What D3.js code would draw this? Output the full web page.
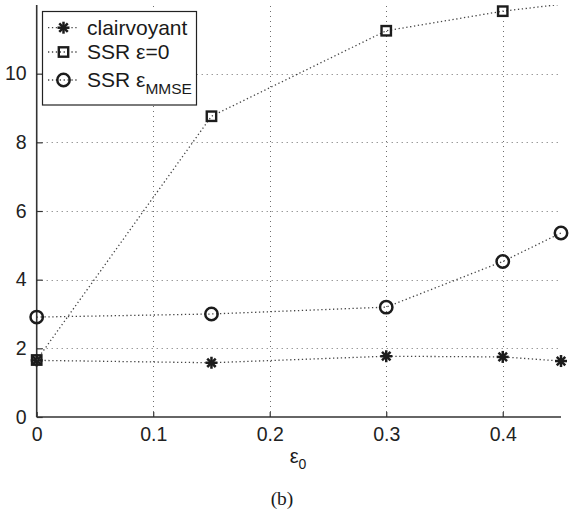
<!DOCTYPE html>
<html><head><meta charset="utf-8">
<script src="https://cdn.jsdelivr.net/npm/d3@7"></script>
<style>body{margin:0;background:#fff}svg{display:block}</style>
</head><body><svg id="c" width="579" height="511"></svg>
<script>
const xValues = [0, 0.15, 0.3, 0.4, 0.45];
const clairvoyant = [1.65, 1.58, 1.77, 1.75, 1.63];
const ssrZero = [1.66, 8.76, 11.25, 11.82, 12.02];
const ssrMMSE = [2.91, 3.0, 3.2, 4.53, 5.36];
const xTicks = [0, 0.1, 0.2, 0.3, 0.4];
const yTicks = [0, 2, 4, 6, 8, 10];
const seriesNames = ["clairvoyant", "SSR ε=0", "SSR ε"];
const seriesSymbols = ["star", "square", "circle"];

const L = 36.7, R = 561, T = 5, B = 417;
const x = d3.scaleLinear().domain([0, 0.45]).range([L, R]);
const y = d3.scaleLinear().domain([0, 12]).range([B, T]);
const svg = d3.select("#c");
const ink = "#1c1c1c";

svg.append("defs").append("clipPath").attr("id","pc").append("rect")
  .attr("x", L).attr("y", T).attr("width", R - L).attr("height", B - T);

// grid
const grid = svg.append("g").attr("stroke", "#6e6e6e").attr("stroke-width", 1).attr("stroke-dasharray", "1 4");
grid.selectAll("line.v").data(xTicks.filter(d => d > 0)).join("line")
  .attr("x1", d => Math.round(x(d)) + 0.5).attr("x2", d => Math.round(x(d)) + 0.5).attr("y1", B).attr("y2", T);
grid.selectAll("line.h").data(yTicks.filter(d => d > 0)).join("line")
  .attr("y1", d => Math.round(y(d)) + 0.5).attr("y2", d => Math.round(y(d)) + 0.5).attr("x1", L).attr("x2", R);

// axes
const xAxis = d3.axisBottom(x).tickValues(xTicks).tickSize(-5).tickPadding(10).tickFormat(d => d === 0 ? "0" : d3.format(".1f")(d));
const gx = svg.append("g").attr("transform", `translate(0,${B})`).call(xAxis);
const yAxis = d3.axisLeft(y).tickValues(yTicks).tickSize(-6).tickPadding(10).tickFormat(d3.format("d"));
const gy = svg.append("g").attr("transform", `translate(${L},0)`).call(yAxis);
[gx, gy].forEach(g => {
  g.select(".domain").attr("stroke", "#333").attr("stroke-width", 1.6);
  g.selectAll(".tick line").attr("stroke", "#333").attr("stroke-width", 1.2);
  g.selectAll(".tick text").attr("fill", "#222").attr("font-family", "Liberation Sans, Arial, sans-serif").attr("font-size", 19.5);
});
gx.select(".domain").attr("d", `M${L},0H${R}`);
gy.select(".domain").attr("d", `M0,${B}V${T}`);

// symbols
function drawSymbol(g, type, cx, cy) {
  if (type === "star") {
    const r = 6, s = g.append("g").attr("stroke", ink).attr("stroke-width", 2.5).attr("stroke-linecap", "butt");
    [0, 45, 90, 135].forEach(a => {
      const rad = a * Math.PI / 180, dx = r * Math.cos(rad), dy = r * Math.sin(rad);
      s.append("line").attr("x1", cx - dx).attr("y1", cy - dy).attr("x2", cx + dx).attr("y2", cy + dy);
    });
  } else if (type === "square") {
    g.append("rect").attr("x", cx - 4.7).attr("y", cy - 4.7).attr("width", 9.4).attr("height", 9.4)
      .attr("fill", "none").attr("stroke", ink).attr("stroke-width", 2.4);
  } else {
    g.append("circle").attr("cx", cx).attr("cy", cy).attr("r", 6.2)
      .attr("fill", "none").attr("stroke", ink).attr("stroke-width", 2.5);
  }
}

const series = [clairvoyant, ssrZero, ssrMMSE];
const line = d3.line().x((d, i) => x(xValues[i])).y(d => y(d));
series.forEach((vals, k) => {
  const g = svg.append("g");
  g.append("path").datum(vals).attr("d", line).attr("fill", "none")
    .attr("stroke", "#444").attr("stroke-width", 1.3).attr("stroke-dasharray", "1.3 2.6")
    .attr("clip-path", "url(#pc)");
  vals.forEach((v, i) => {
    if (v <= 12) drawSymbol(g, seriesSymbols[k], x(xValues[i]), y(v));
  });
});

// legend
const lg = svg.append("g");
lg.append("rect").attr("x", 42.5).attr("y", 11.5).attr("width", 154).attr("height", 93.5)
  .attr("fill", "#fff").attr("stroke", "#222").attr("stroke-width", 1.2);
const rowsY = [27.7, 52, 80];
seriesNames.forEach((name, k) => {
  const ry = rowsY[k];
  lg.append("line").attr("x1", 48).attr("x2", 79).attr("y1", ry).attr("y2", ry)
    .attr("stroke", "#444").attr("stroke-width", 1.3).attr("stroke-dasharray", "1.3 2.6");
  drawSymbol(lg, seriesSymbols[k], 63.5, ry);
  const t = lg.append("text").attr("x", 87).attr("y", ry + 7)
    .attr("font-family", "Liberation Sans, Arial, sans-serif").attr("font-size", 21).attr("fill", "#1a1a1a").text(name);
  if (k === 2) t.append("tspan").attr("font-size", 15.5).attr("dy", 7).text("MMSE");
});

// x label
const xl = svg.append("text").attr("x", 298).attr("y", 463).attr("text-anchor", "middle")
  .attr("font-family", "Liberation Sans, Arial, sans-serif").attr("font-size", 20).attr("fill", "#1a1a1a").text("ε");
xl.append("tspan").attr("font-size", 14).attr("dy", 6).text("0");

svg.append("text").attr("x", 282).attr("y", 505).attr("text-anchor", "middle")
  .attr("font-family", "Liberation Serif, Times New Roman, serif").attr("font-size", 19.5).attr("fill", "#1a1a1a").text("(b)");
</script></body></html>
